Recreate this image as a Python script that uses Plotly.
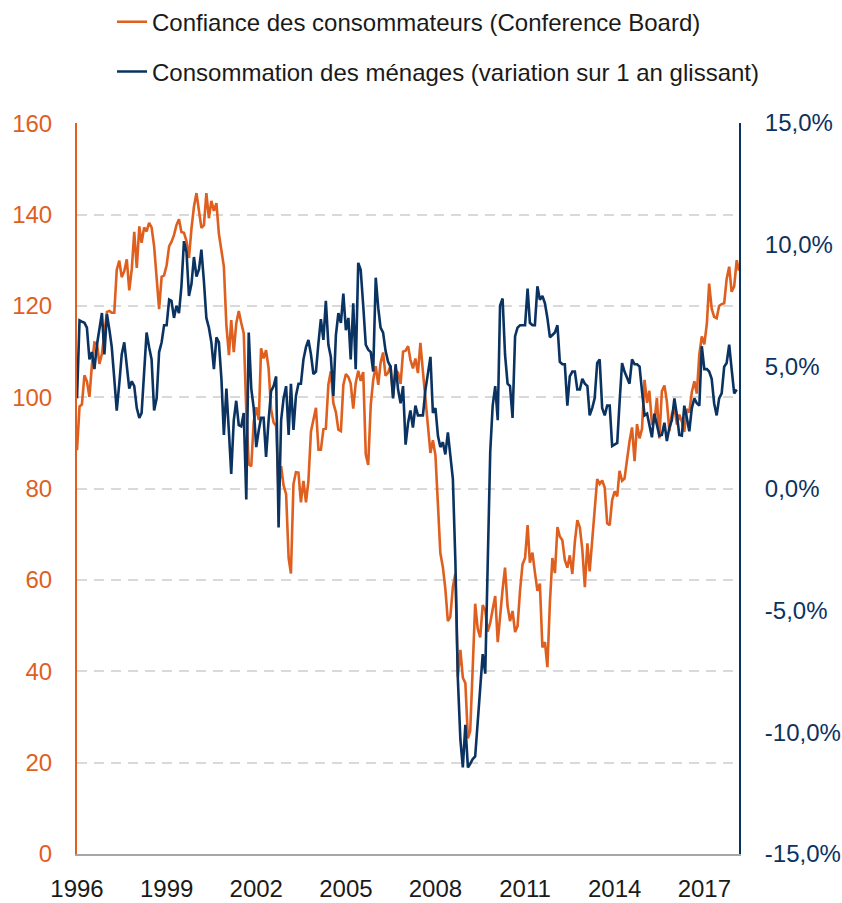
import pandas as pd
import plotly.graph_objects as go

# Confiance des consommateurs (Conference Board), monthly Jan 1996 - Mar 2018
conf_1996 = [88.4, 98.0, 98.4, 104.8, 103.5, 100.1, 107.0, 112.0, 111.8, 107.3, 109.5, 114.2]
conf_1997 = [118.7, 118.9, 118.5, 118.5, 127.9, 129.9, 126.3, 127.6, 130.2, 123.4, 128.1, 136.2]
conf_1998 = [128.3, 137.4, 133.8, 137.2, 136.3, 138.2, 137.2, 133.1, 126.4, 119.3, 126.4, 126.7]
conf_1999 = [128.9, 133.1, 134.0, 135.5, 137.7, 139.0, 136.2, 136.0, 134.2, 130.5, 137.0, 141.7]
conf_2000 = [144.7, 140.8, 137.1, 137.7, 144.7, 139.2, 143.0, 140.8, 142.5, 135.8, 132.6, 128.6]
conf_2001 = [115.7, 109.2, 116.9, 109.9, 116.1, 118.9, 116.3, 114.0, 97.0, 85.3, 84.9, 94.6]
conf_2002 = [97.8, 95.0, 110.7, 108.5, 110.3, 106.3, 97.4, 94.5, 93.7, 79.6, 84.9, 80.7]
conf_2003 = [78.8, 64.8, 61.4, 81.0, 83.6, 83.5, 77.0, 81.7, 77.0, 81.7, 92.5, 94.8]
conf_2004 = [97.7, 88.5, 88.5, 93.0, 93.1, 102.8, 105.7, 98.7, 96.7, 92.9, 92.6, 102.7]
conf_2005 = [105.1, 104.4, 103.0, 97.5, 103.1, 105.8, 103.6, 105.5, 87.5, 85.2, 98.3, 103.8]
conf_2006 = [106.8, 102.7, 107.5, 109.8, 104.7, 105.4, 107.0, 100.2, 105.9, 105.4, 102.9, 110.0]
conf_2007 = [110.2, 111.2, 108.2, 106.3, 108.5, 105.3, 111.9, 105.6, 99.5, 95.2, 87.8, 90.6]
conf_2008 = [87.3, 76.4, 65.9, 62.8, 58.1, 51.0, 51.9, 58.5, 61.4, 38.8, 44.7, 38.6]
conf_2009 = [37.4, 25.3, 26.9, 40.8, 54.8, 49.3, 47.4, 54.5, 53.4, 48.7, 50.6, 53.6]
conf_2010 = [56.5, 46.4, 52.3, 57.9, 62.7, 54.3, 51.0, 53.2, 48.6, 49.9, 57.8, 63.4]
conf_2011 = [64.8, 72.0, 63.8, 66.0, 61.7, 57.6, 59.2, 45.2, 46.4, 40.9, 55.2, 64.8]
conf_2012 = [61.5, 71.6, 69.5, 68.7, 64.4, 62.7, 65.4, 61.3, 68.4, 73.1, 71.5, 66.7]
conf_2013 = [58.4, 68.0, 61.9, 69.0, 76.2, 82.1, 81.0, 81.8, 80.2, 72.4, 72.0, 77.5]
conf_2014 = [79.4, 78.3, 83.9, 81.7, 82.2, 86.4, 90.3, 93.4, 86.0, 94.1, 91.0, 93.1]
conf_2015 = [103.8, 98.8, 101.4, 94.3, 94.6, 99.8, 91.0, 101.3, 102.6, 99.1, 92.6, 96.3]
conf_2016 = [97.8, 94.0, 96.2, 94.7, 92.4, 97.4, 96.7, 101.1, 103.5, 100.8, 109.4, 113.3]
conf_2017 = [111.6, 116.1, 124.9, 119.4, 117.6, 117.3, 120.0, 120.4, 120.6, 125.9, 128.6, 123.1]
conf_2018 = [124.3, 130.0, 127.7]

# Consommation des ménages (variation sur 1 an glissant, %), monthly Jan 1996 - Feb 2018
cons_1996 = [3.7, 6.9, 6.85, 6.8, 6.6, 5.3, 5.6, 4.9, 5.9, 6.6, 7.2, 5.5]
cons_1997 = [7.15, 6.5, 5.8, 4.5, 3.2, 4.3, 5.5, 6.0, 5.0, 4.1, 4.4, 4.2]
cons_1998 = [3.3, 2.9, 3.1, 4.8, 6.4, 5.8, 5.3, 3.2, 3.7, 5.6, 6.0, 6.7]
cons_1999 = [6.7, 7.75, 7.7, 7.0, 7.5, 7.2, 8.3, 10.15, 9.7, 7.9, 8.4, 9.5]
cons_2000 = [8.7, 9.0, 9.8, 8.5, 7.0, 6.6, 6.0, 4.9, 6.2, 6.0, 4.5, 2.2]
cons_2001 = [4.1, 2.3, 0.6, 2.8, 3.6, 2.6, 2.55, 3.1, -0.45, 6.4, 4.1, 3.3]
cons_2002 = [1.7, 2.4, 2.9, 2.9, 1.3, 2.8, 4.0, 4.2, 4.6, -1.6, 2.8, 3.7]
cons_2003 = [4.2, 2.2, 4.3, 2.4, 3.8, 4.3, 4.3, 5.3, 5.8, 6.1, 5.5, 4.7]
cons_2004 = [4.8, 6.0, 6.95, 6.1, 7.7, 5.9, 5.4, 3.8, 6.3, 7.2, 6.8, 8.0]
cons_2005 = [6.5, 7.0, 5.3, 7.6, 4.9, 9.26, 8.98, 7.5, 5.9, 5.7, 5.6, 4.8]
cons_2006 = [8.65, 7.4, 6.6, 6.4, 5.65, 5.2, 5.0, 3.7, 5.1, 4.06, 3.5, 4.2]
cons_2007 = [1.8, 2.7, 3.2, 2.5, 3.4, 3.0, 3.0, 3.0, 4.06, 4.75, 5.4, 3.1]
cons_2008 = [3.3, 2.15, 1.7, 1.9, 1.4, 2.3, 1.4, 0.4, -3.0, -7.8, -10.3, -11.45]
cons_2009 = [-9.7, -11.45, -11.3, -11.1, -11.0, -9.7, -8.2, -6.8, -7.6, -3.7, 1.5, 3.4]
cons_2010 = [4.2, 2.8, 7.5, 7.8, 5.5, 4.3, 4.2, 2.9, 6.25, 6.6, 6.7, 6.7]
cons_2011 = [6.7, 8.2, 6.8, 6.7, 6.7, 8.3, 7.75, 7.9, 7.6, 7.0, 6.2, 6.3]
cons_2012 = [6.4, 6.7, 5.2, 5.1, 5.1, 3.4, 4.6, 4.8, 4.8, 4.06, 4.06, 4.5]
cons_2013 = [4.3, 4.2, 3.0, 3.3, 3.7, 5.15, 5.3, 3.3, 3.0, 3.4, 3.4, 1.74]
cons_2014 = [1.8, 1.87, 3.5, 5.15, 4.8, 4.5, 4.3, 5.3, 5.1, 5.1, 5.0, 4.0]
cons_2015 = [3.0, 3.07, 2.6, 2.1, 3.07, 2.6, 2.17, 2.2, 2.7, 1.95, 2.5, 2.8]
cons_2016 = [3.7, 3.0, 2.2, 2.17, 3.4, 2.9, 2.35, 3.3, 3.7, 3.5, 3.4, 5.84]
cons_2017 = [4.9, 4.9, 4.8, 4.5, 3.5, 3.0, 3.7, 3.9, 5.0, 5.15, 5.9, 4.9]
cons_2018 = [3.9, 4.06]

year_ticks = [1996, 1999, 2002, 2005, 2008, 2011, 2014, 2017]
left_ticks = [0, 20, 40, 60, 80, 100, 120, 140, 160]
right_ticks = [-15, -10, -5, 0, 5, 10, 15]
right_labels = ["-15,0%", "-10,0%", "-5,0%", "0,0%", "5,0%", "10,0%", "15,0%"]

conf = (conf_1996 + conf_1997 + conf_1998 + conf_1999 + conf_2000 + conf_2001 + conf_2002
        + conf_2003 + conf_2004 + conf_2005 + conf_2006 + conf_2007 + conf_2008 + conf_2009
        + conf_2010 + conf_2011 + conf_2012 + conf_2013 + conf_2014 + conf_2015 + conf_2016
        + conf_2017 + conf_2018)
cons = (cons_1996 + cons_1997 + cons_1998 + cons_1999 + cons_2000 + cons_2001 + cons_2002
        + cons_2003 + cons_2004 + cons_2005 + cons_2006 + cons_2007 + cons_2008 + cons_2009
        + cons_2010 + cons_2011 + cons_2012 + cons_2013 + cons_2014 + cons_2015 + cons_2016
        + cons_2017 + cons_2018)

dates = pd.date_range("1996-01-01", periods=len(conf), freq="MS")

ORANGE = "#DF5F1F"
NAVY = "#0A3361"
TEXT = "#1A1A1A"
FONT = "'Liberation Sans', Arial, sans-serif"

fig = go.Figure()
fig.add_trace(go.Scatter(
    x=dates, y=conf, mode="lines", name="Confiance des consommateurs (Conference Board)",
    line=dict(color=ORANGE, width=2.6), yaxis="y", legend="legend",
))
fig.add_trace(go.Scatter(
    x=dates[:len(cons)], y=cons, mode="lines",
    name="Consommation des ménages (variation sur 1 an glissant)",
    line=dict(color=NAVY, width=2.6), yaxis="y2", legend="legend2",
))

fig.update_layout(
    width=842, height=903,
    paper_bgcolor="white", plot_bgcolor="white",
    margin=dict(l=77, r=103, t=123, b=49, autoexpand=False),
    font=dict(family=FONT, size=24, color=TEXT),
    xaxis=dict(
        type="date",
        range=[dates[0], dates[-1]],
        tickvals=[pd.Timestamp(f"{y}-01-01") for y in year_ticks],
        ticktext=[str(y) for y in year_ticks],
        showgrid=False, zeroline=False,
        showline=True, linecolor="#A6A6A6", linewidth=1.5,
        ticks="", ticklabelstandoff=12,
        tickfont=dict(size=24, color=TEXT),
    ),
    yaxis=dict(
        range=[0, 160.05], tickvals=left_ticks,
        showgrid=True, gridcolor="#D9D9D9", gridwidth=1.5, griddash="10px,7px",
        zeroline=False, showline=True, linecolor=ORANGE, linewidth=2,
        ticks="", ticklabelstandoff=18,
        tickfont=dict(size=24, color=ORANGE),
    ),
    yaxis2=dict(
        range=[-15, 15], tickvals=right_ticks, ticktext=right_labels,
        overlaying="y", side="right",
        showgrid=False, zeroline=False, showline=True, linecolor=NAVY, linewidth=2,
        ticks="", ticklabelstandoff=19,
        tickfont=dict(size=24, color=NAVY),
    ),
    legend=dict(
        x=0.0529, y=1.138, xanchor="left", yanchor="middle",
        bgcolor="rgba(0,0,0,0)", font=dict(size=24, color=TEXT),
    ),
    legend2=dict(
        x=0.0529, y=1.07, xanchor="left", yanchor="middle",
        bgcolor="rgba(0,0,0,0)", font=dict(size=24, color=TEXT),
    ),
    showlegend=True,
)

fig.write_html(
    "out.html",
    config={"displayModeBar": False},
    post_script="document.body.style.margin='0';document.body.style.padding='0';",
)
